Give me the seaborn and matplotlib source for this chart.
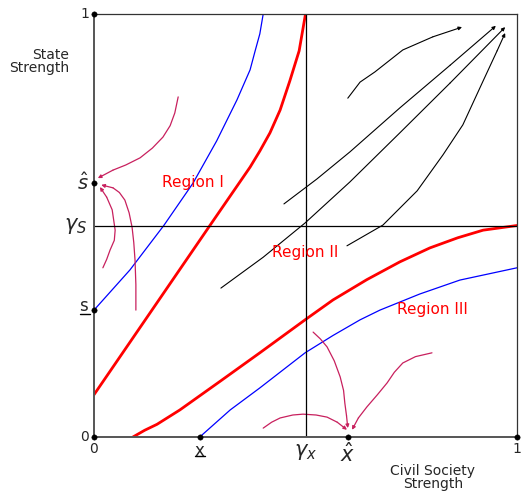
"""
Phase diagram: state strength vs civil society strength.
"""

import numpy as np
import pandas as pd
import matplotlib
matplotlib.use("Agg")
import matplotlib.pyplot as plt
from matplotlib.lines import Line2D
import seaborn as sns

# thresholds / equilibria
GAMMA_X = 0.5
GAMMA_S = 0.5
S_LOW = 0.30
S_HAT = 0.60
X_LOW = 0.25
X_HAT = 0.60

# boundary curves (x, y)
blue_up_x = [0.0, 0.085, 0.165, 0.234, 0.29, 0.338, 0.369, 0.381, 0.392, 0.40]
blue_up_y = [0.30, 0.395, 0.50, 0.60, 0.70, 0.797, 0.868, 0.913, 0.953, 1.0]
red_up_x = [0.0, 0.137, 0.274, 0.369, 0.392, 0.416, 0.440, 0.463, 0.485, 0.50]
red_up_y = [0.10, 0.30, 0.50, 0.638, 0.676, 0.719, 0.773, 0.842, 0.913, 1.0]
red_lo_x = [0.092, 0.12, 0.149, 0.203, 0.30, 0.392, 0.499, 0.565, 0.645, 0.723, 0.794, 0.86, 0.92, 1.0]
red_lo_y = [0.0, 0.016, 0.030, 0.064, 0.133, 0.199, 0.277, 0.324, 0.372, 0.414, 0.447, 0.471, 0.489, 0.5]
blue_lo_x = [0.25, 0.322, 0.392, 0.499, 0.565, 0.629, 0.676, 0.77, 0.865, 1.0]
blue_lo_y = [0.0, 0.064, 0.116, 0.199, 0.240, 0.277, 0.300, 0.338, 0.371, 0.40]

# trajectories in Region II (black)
traj_black = [
    ([0.449, 0.527, 0.605, 0.723, 0.842, 0.950], [0.551, 0.610, 0.674, 0.778, 0.879, 0.972]),
    ([0.300, 0.40, 0.499, 0.605, 0.723, 0.842, 0.972], [0.352, 0.425, 0.506, 0.603, 0.719, 0.837, 0.969]),
    ([0.598, 0.683, 0.764, 0.825, 0.872, 0.920, 0.953, 0.972], [0.452, 0.501, 0.582, 0.667, 0.738, 0.842, 0.913, 0.955]),
    ([0.600, 0.629, 0.664, 0.730, 0.801, 0.870], [0.801, 0.839, 0.863, 0.915, 0.946, 0.969]),
]
# trajectories to s-hat (Region I) and x-hat (Region III)
traj_magenta = [
    ([0.199, 0.191, 0.180, 0.163, 0.138, 0.109, 0.075, 0.045, 0.009],
     [0.804, 0.766, 0.736, 0.709, 0.683, 0.660, 0.643, 0.631, 0.612]),
    ([0.021, 0.030, 0.038, 0.048, 0.050, 0.043, 0.030, 0.014],
     [0.400, 0.420, 0.442, 0.465, 0.489, 0.537, 0.567, 0.591]),
    ([0.099, 0.099, 0.097, 0.094, 0.090, 0.083, 0.073, 0.060, 0.045, 0.017],
     [0.300, 0.360, 0.418, 0.460, 0.496, 0.530, 0.560, 0.578, 0.589, 0.596]),
    ([0.400, 0.420, 0.44, 0.470, 0.494, 0.525, 0.551, 0.575, 0.598],
     [0.021, 0.035, 0.045, 0.052, 0.054, 0.052, 0.047, 0.035, 0.017]),
    ([0.518, 0.535, 0.551, 0.568, 0.582, 0.590, 0.593, 0.597, 0.600],
     [0.248, 0.232, 0.213, 0.180, 0.142, 0.110, 0.080, 0.050, 0.021]),
    ([0.799, 0.760, 0.730, 0.710, 0.693, 0.670, 0.645, 0.625, 0.610],
     [0.199, 0.190, 0.175, 0.153, 0.128, 0.100, 0.071, 0.045, 0.017]),
]

MAGENTA = "#c8205e"

sns.set_style("white")
plt.rcParams["font.family"] = ["DejaVu Sans"]

fig = plt.figure(figsize=(5.21, 4.91), dpi=100)
ax = fig.add_axes([94 / 521, 54 / 491, 423 / 521, 423 / 491])


def curve(xs, ys, color, lw):
    df = pd.DataFrame({"x": xs, "y": ys})
    sns.lineplot(data=df, x="x", y="y", sort=False, estimator=None,
                 color=color, linewidth=lw, ax=ax)


curve(blue_up_x, blue_up_y, "#0000ff", 0.9)
curve(red_up_x, red_up_y, "#ff0000", 2.0)
curve(red_lo_x, red_lo_y, "#ff0000", 2.0)
curve(blue_lo_x, blue_lo_y, "#0000ff", 0.9)

for xs, ys in traj_black:
    curve(xs[:-1], ys[:-1], "black", 0.8)
    ax.annotate("", xy=(xs[-1], ys[-1]), xytext=(xs[-2], ys[-2]),
                arrowprops=dict(arrowstyle="-|>", color="black", lw=0.8,
                                mutation_scale=5, shrinkA=0, shrinkB=0))
for xs, ys in traj_magenta:
    curve(xs[:-1], ys[:-1], MAGENTA, 0.9)
    ax.annotate("", xy=(xs[-1], ys[-1]), xytext=(xs[-2], ys[-2]),
                arrowprops=dict(arrowstyle="-|>", color=MAGENTA, lw=0.9,
                                mutation_scale=5, shrinkA=0, shrinkB=0))

ax.axvline(GAMMA_X, color="black", linewidth=0.9)
ax.axhline(GAMMA_S, color="black", linewidth=0.9)

ax.set_xlim(0, 1)
ax.set_ylim(0, 1)
ax.set_xticks([])
ax.set_yticks([])
ax.set_xlabel("")
ax.set_ylabel("")
for side in ["left", "bottom"]:
    ax.spines[side].set_color("#555555")
    ax.spines[side].set_linewidth(1.4)
for side in ["top", "right"]:
    ax.spines[side].set_color("#333333")
    ax.spines[side].set_linewidth(0.9)

# equilibrium / end points
pts_x = [0, 0, 0, 0, X_LOW, X_HAT, 1]
pts_y = [1, S_HAT, S_LOW, 0, 0, 0, 0]
sns.scatterplot(x=pts_x, y=pts_y, color="black", s=15, ax=ax, clip_on=False,
                zorder=5, edgecolor="black")

# axis marks
ax.text(-0.012, 1.0, "1", ha="right", va="center", fontsize=10)
ax.text(-0.012, 0.0, "0", ha="right", va="center", fontsize=10)
ax.text(0.0, -0.012, "0", ha="center", va="top", fontsize=10)
ax.text(1.0, -0.012, "1", ha="center", va="top", fontsize=10)
ax.text(-0.012, S_HAT, r"$\hat{s}$", ha="right", va="center", fontsize=14)
ax.text(-0.014, S_LOW + 0.01, "s", ha="right", va="center", fontsize=12)
ax.text(-0.015, GAMMA_S, r"$\gamma_S$", ha="right", va="center", fontsize=15)
ax.text(X_LOW, -0.012, "x", ha="center", va="top", fontsize=12)
ax.text(GAMMA_X, -0.012, r"$\gamma_x$", ha="center", va="top", fontsize=15)
ax.text(X_HAT, -0.012, r"$\hat{x}$", ha="center", va="top", fontsize=15)

# underlines for the lower thresholds
for (x0, x1, yy) in [(80, 90, 314), (195, 205, 456)]:
    fig.add_artist(Line2D([x0 / 521, x1 / 521], [1 - yy / 491, 1 - yy / 491],
                          transform=fig.transFigure, color="black", linewidth=1.0))

ax.text(0.233, 0.601, "Region I", color="red", ha="center", va="center", fontsize=11)
ax.text(0.499, 0.435, "Region II", color="red", ha="center", va="center", fontsize=11)
ax.text(0.801, 0.302, "Region III", color="red", ha="center", va="center", fontsize=11)

fig.text(69 / 521, 1 - 55 / 491, "State", ha="right", va="center", fontsize=10)
fig.text(69 / 521, 1 - 68 / 491, "Strength", ha="right", va="center", fontsize=10)
fig.text(433 / 521, 1 - 471 / 491, "Civil Society", ha="center", va="center", fontsize=10)
fig.text(433 / 521, 1 - 484 / 491, "Strength", ha="center", va="center", fontsize=10)

fig.savefig("out.png", dpi=100)
